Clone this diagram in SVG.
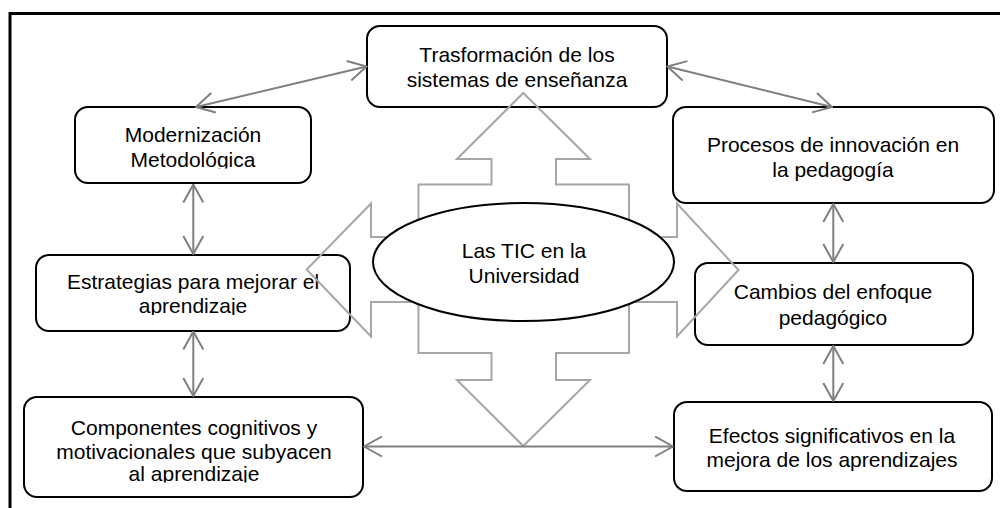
<svg xmlns="http://www.w3.org/2000/svg" width="1000" height="508" viewBox="0 0 1000 508">
<style>
.node{fill:#fff;stroke:#000;stroke-width:2}
.t{font-family:"Liberation Sans",Arial,sans-serif;font-size:21px;fill:#000;text-anchor:middle}
.con{stroke:#7f7f7f;stroke-width:2;fill:none;marker-start:url(#ah);marker-end:url(#ah)}
.big{fill:none;stroke:#a6a6a6;stroke-width:2}
</style>
<defs>
<marker id="ah" viewBox="0 0 20 22" refX="19" refY="11" markerWidth="20" markerHeight="22" markerUnits="userSpaceOnUse" orient="auto-start-reverse">
<path d="M1,1 L19,11 L1,21" fill="none" stroke="#7f7f7f" stroke-width="2"/>
</marker>
<clipPath id="cMod"><rect x="75" y="107" width="236" height="61.5"/></clipPath>
<clipPath id="cEst"><rect x="36" y="255" width="314" height="60"/></clipPath>
<clipPath id="cComp"><rect x="24" y="397" width="339" height="85.5"/></clipPath>
</defs>
<rect x="10" y="13.5" width="1000" height="510" fill="#fff" stroke="#000" stroke-width="3"/>
<g id="trasformacion">
<rect class="node" x="367" y="26" width="300" height="81" rx="13"/>
<text class="t" x="517" y="62">Trasformación de los</text>
<text class="t" x="517" y="87">sistemas de enseñanza</text>
</g>
<g id="modernizacion">
<rect class="node" x="75" y="107" width="236" height="76" rx="13"/>
<g clip-path="url(#cMod)">
<text class="t" x="193" y="142">Modernización</text>
<text class="t" x="193" y="167">Metodológica</text>
</g>
</g>
<g id="estrategias">
<rect class="node" x="36" y="255" width="314" height="76" rx="13"/>
<g clip-path="url(#cEst)">
<text class="t" x="193" y="289">Estrategias para mejorar el</text>
<text class="t" x="193" y="313">aprendizaje</text>
</g>
</g>
<g id="componentes">
<rect class="node" x="24" y="397" width="339" height="100" rx="13"/>
<g clip-path="url(#cComp)">
<text class="t" x="194" y="435">Componentes cognitivos y</text>
<text class="t" x="194" y="458.5">motivacionales que subyacen</text>
<text class="t" x="194" y="481">al aprendizaje</text>
</g>
</g>
<g id="procesos">
<rect class="node" x="673" y="107" width="321" height="96" rx="13"/>
<text class="t" x="833" y="152">Procesos de innovación en</text>
<text class="t" x="833" y="177">la pedagogía</text>
</g>
<g id="cambios">
<rect class="node" x="695" y="263" width="278" height="82" rx="13"/>
<text class="t" x="833" y="299">Cambios del enfoque</text>
<text class="t" x="833" y="325">pedagógico</text>
</g>
<g id="efectos">
<rect class="node" x="674" y="402" width="318" height="89" rx="13"/>
<text class="t" x="832" y="443">Efectos significativos en la</text>
<text class="t" x="832" y="467">mejora de los aprendizajes</text>
</g>
<g id="bigarrow">
<polygon class="big" points="523.3,93 590,159 556,159 556,184.5 629,184.5 629,237 677,237 677,203.5 738.5,270 677,336.5 677,302 629,302 629,353 556,353 556,380 590,380 523.3,446 457,380 491.5,380 491.5,353 418.5,353 418.5,302 371,302 371,336.5 306.7,269.5 371,203.5 371,237 418.5,237 418.5,184.5 491.5,184.5 491.5,159 457,159"/>
</g>
<g id="connectors">
<line class="con" x1="196" y1="107" x2="366.5" y2="66.5"/>
<line class="con" x1="667.5" y1="66.5" x2="832" y2="107"/>
<line class="con" x1="193.3" y1="184.5" x2="193.3" y2="254"/>
<line class="con" x1="193.3" y1="331.5" x2="193.3" y2="396"/>
<line class="con" x1="833.3" y1="204" x2="833.3" y2="262"/>
<line class="con" x1="833.3" y1="346" x2="833.3" y2="401"/>
<line class="con" x1="364" y1="446.5" x2="673" y2="446.5"/>
</g>
<g id="center">
<ellipse class="node" cx="523.5" cy="262" rx="150.5" ry="59"/>
<text class="t" x="524" y="258">Las TIC en la</text>
<text class="t" x="524" y="283">Universidad</text>
</g>
</svg>
